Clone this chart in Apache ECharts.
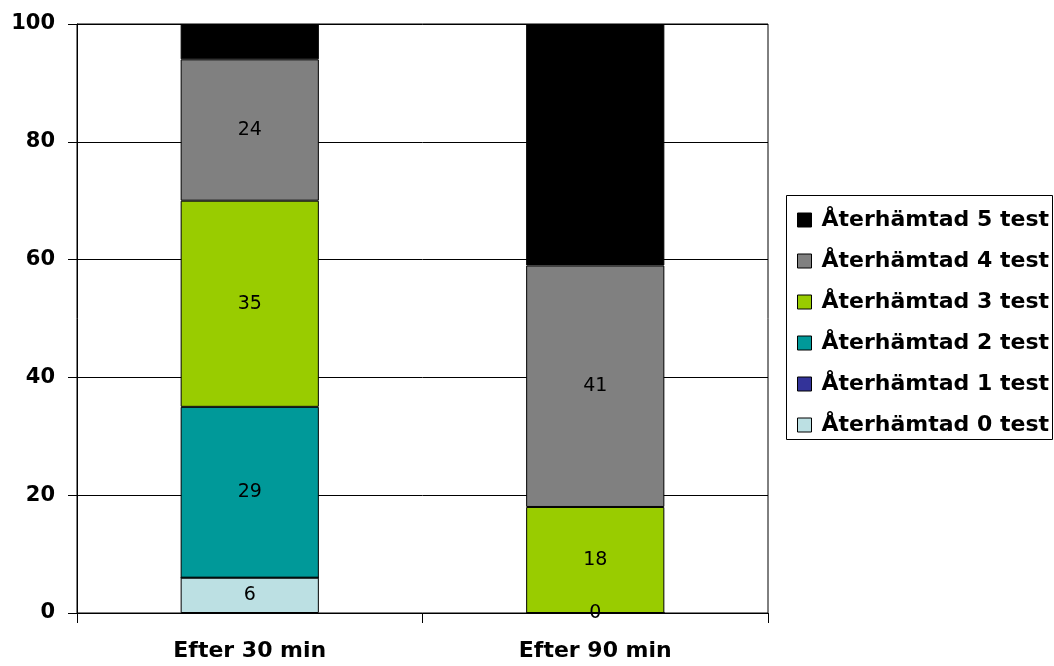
<!DOCTYPE html>
<html>
<head>
<meta charset="utf-8">
<script src="https://cdn.jsdelivr.net/npm/echarts@6/dist/echarts.min.js"></script>
<style>
  html, body { margin: 0; padding: 0; background: #ffffff; }
  #chart { width: 1054px; height: 666px; }
</style>
</head>
<body>
<div id="chart"></div>
<script>
// Time points after the session
const categories = ['Efter 30 min', 'Efter 90 min'];

// Share (%) of participants by number of recovered tests, bottom to top
const seriesNames = [
  'Återhämtad 0 test',
  'Återhämtad 1 test',
  'Återhämtad 2 test',
  'Återhämtad 3 test',
  'Återhämtad 4 test',
  'Återhämtad 5 test'
];
const recovered0 = [6, 0];
const recovered1 = [0, 0];
const recovered2 = [29, 0];
const recovered3 = [35, 18];
const recovered4 = [24, 41];
const recovered5 = [6, 41];

const yTicks = [0, 20, 40, 60, 80, 100];

const seriesValues = [recovered0, recovered1, recovered2, recovered3, recovered4, recovered5];
const colors = ['#bce0e3', '#333399', '#009999', '#99cc00', '#808080', '#000000'];

const FONT = 'DejaVu Sans';

const series = seriesNames.map((name, i) => ({
  name: name,
  type: 'bar',
  stack: 'total',
  barWidth: '40%',
  itemStyle: { color: colors[i], borderColor: '#000000', borderWidth: 1 },
  label: {
    show: i !== 5,
    position: 'inside',
    color: '#000000',
    fontFamily: FONT,
    fontSize: 19
  },
  // empty segments carry no label, except the base series which keeps its 0
  data: seriesValues[i].map(v => (v === 0 && i !== 0)
    ? { value: v, label: { show: false } }
    : { value: v }),
  emphasis: { disabled: true }
}));

const chart = echarts.init(document.getElementById('chart'), null, { renderer: 'canvas' });

chart.setOption({
  backgroundColor: '#ffffff',
  animation: false,
  grid: {
    left: 77,
    right: 286,
    top: 24,
    bottom: 53,
    show: true,
    borderColor: '#000000',
    borderWidth: 1,
    backgroundColor: 'transparent'
  },
  legend: {
    orient: 'vertical',
    left: 797,
    top: 209,
    padding: 0,
    itemWidth: 14,
    itemHeight: 14,
    itemGap: 19,
    icon: 'rect',
    selectedMode: false,
    data: seriesNames.slice().reverse(),
    itemStyle: { borderColor: '#000000', borderWidth: 1 },
    textStyle: {
      fontFamily: FONT,
      fontWeight: 'bold',
      fontSize: 22,
      lineHeight: 22,
      color: '#000000',
      padding: [0, 0, 0, 5]
    }
  },
  graphic: [{
    type: 'rect',
    shape: { x: 786.5, y: 195.5, width: 266, height: 244 },
    style: { fill: 'transparent', stroke: '#000000', lineWidth: 1 },
    silent: true,
    z: 0
  }],
  xAxis: {
    type: 'category',
    data: categories,
    boundaryGap: true,
    axisLine: { show: true, lineStyle: { color: '#000000', width: 1 } },
    axisTick: { show: true, length: 10, lineStyle: { color: '#000000' } },
    axisLabel: {
      margin: 27,
      color: '#000000',
      fontFamily: FONT,
      fontWeight: 'bold',
      fontSize: 22
    },
    splitLine: { show: false }
  },
  yAxis: {
    type: 'value',
    min: yTicks[0],
    max: yTicks[yTicks.length - 1],
    interval: yTicks[1] - yTicks[0],
    axisLine: { show: true, lineStyle: { color: '#000000', width: 1 } },
    axisTick: { show: true, length: 9, lineStyle: { color: '#000000' } },
    axisLabel: {
      margin: 22,
      color: '#000000',
      fontFamily: FONT,
      fontWeight: 'bold',
      fontSize: 21
    },
    splitLine: { show: true, lineStyle: { color: '#000000', width: 1 } }
  },
  series: series
});
</script>
</body>
</html>
